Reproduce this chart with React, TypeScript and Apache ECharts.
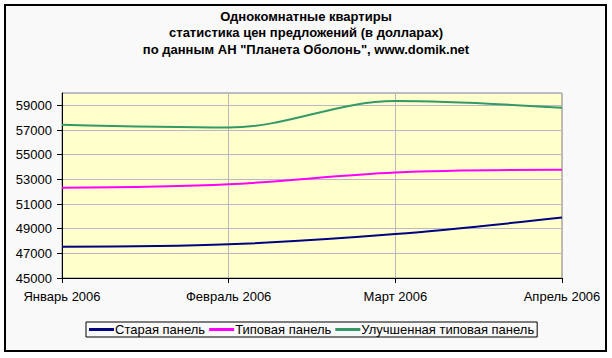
import React, { useEffect, useRef } from "react";
import * as echarts from "echarts";

const categories = ["Январь 2006", "Февраль 2006", "Март 2006", "Апрель 2006"];
const oldPanel = [47530, 47730, 48560, 49900];
const typicalPanel = [52310, 52600, 53560, 53780];
const improvedPanel = [57420, 57200, 59350, 58800];
const seriesNames = ["Старая панель", "Типовая панель", "Улучшенная типовая панель"];
const titleLines = [
  "Однокомнатные квартиры",
  "статистика цен предложений (в долларах)",
  'по данным АН "Планета Оболонь", www.domik.net',
];

const FONT = "'Liberation Sans', Arial, sans-serif";

export default function App() {
  const ref = useRef<HTMLDivElement>(null);
  useEffect(() => {
    if (!ref.current) return;
    const chart = echarts.init(ref.current, null, { renderer: "svg" });
    const colors = ["#000080", "#FF00FF", "#339966"];
    const data = [oldPanel, typicalPanel, improvedPanel];
    chart.setOption({
      animation: false,
      backgroundColor: "#ffffff",
      textStyle: { fontFamily: FONT },
      graphic: [
        {
          type: "rect",
          z: -10,
          shape: { x: 5, y: 5, width: 601, height: 346 },
          style: { fill: "#f9f9f9", stroke: "#000000", lineWidth: 2 },
        },
      ],
      title: {
        text: titleLines.join("\n"),
        left: "center",
        top: 8,
        padding: 0,
        textStyle: {
          fontFamily: FONT,
          fontSize: 13,
          fontWeight: "bold",
          lineHeight: 16.5,
          color: "#000000",
        },
      },
      legend: {
        left: 86,
        top: 322,
        padding: [1, 3, 1, 3],
        itemGap: 4,
        itemWidth: 25,
        itemHeight: 3,
        icon: "rect",
        borderColor: "#000000",
        borderWidth: 1,
        textStyle: { fontFamily: FONT, fontSize: 13, color: "#000000", padding: [0, 0, 0, -4] },
        data: seriesNames,
      },
      grid: {
        left: 62,
        right: 50,
        top: 93,
        bottom: 80,
        show: true,
        backgroundColor: "#FFFFCC",
        borderColor: "#808080",
        borderWidth: 1,
      },
      xAxis: {
        type: "category",
        data: categories,
        boundaryGap: false,
        axisLine: { lineStyle: { color: "#000000", width: 1 } },
        axisTick: { show: true, length: 5, lineStyle: { color: "#000000" } },
        axisLabel: { color: "#000000", fontSize: 13, fontFamily: FONT, margin: 12 },
        splitLine: { show: true, lineStyle: { color: "#b8b8b8", width: 1 } },
      },
      yAxis: {
        type: "value",
        min: 45000,
        max: 60000,
        interval: 2000,
        axisLine: { show: true, lineStyle: { color: "#000000", width: 1 } },
        axisTick: { show: true, length: 5, lineStyle: { color: "#000000" } },
        axisLabel: {
          color: "#000000",
          fontSize: 13,
          fontFamily: FONT,
          margin: 10,
          showMaxLabel: false,
          formatter: (v: number) => String(v),
        },
        splitLine: { show: true, lineStyle: { color: "#b8b8c8", width: 1 } },
      },
      series: seriesNames.map((name, i) => ({
        name,
        type: "line",
        data: data[i],
        smooth: 0.35,
        showSymbol: false,
        symbol: "none",
        color: colors[i],
        lineStyle: { color: colors[i], width: 2 },
        itemStyle: { color: colors[i] },
      })),
    });
    return () => chart.dispose();
  }, []);
  return (
    <div
      ref={ref}
      style={{ position: "fixed", left: 0, top: 0, width: 612, height: 358 }}
    />
  );
}
